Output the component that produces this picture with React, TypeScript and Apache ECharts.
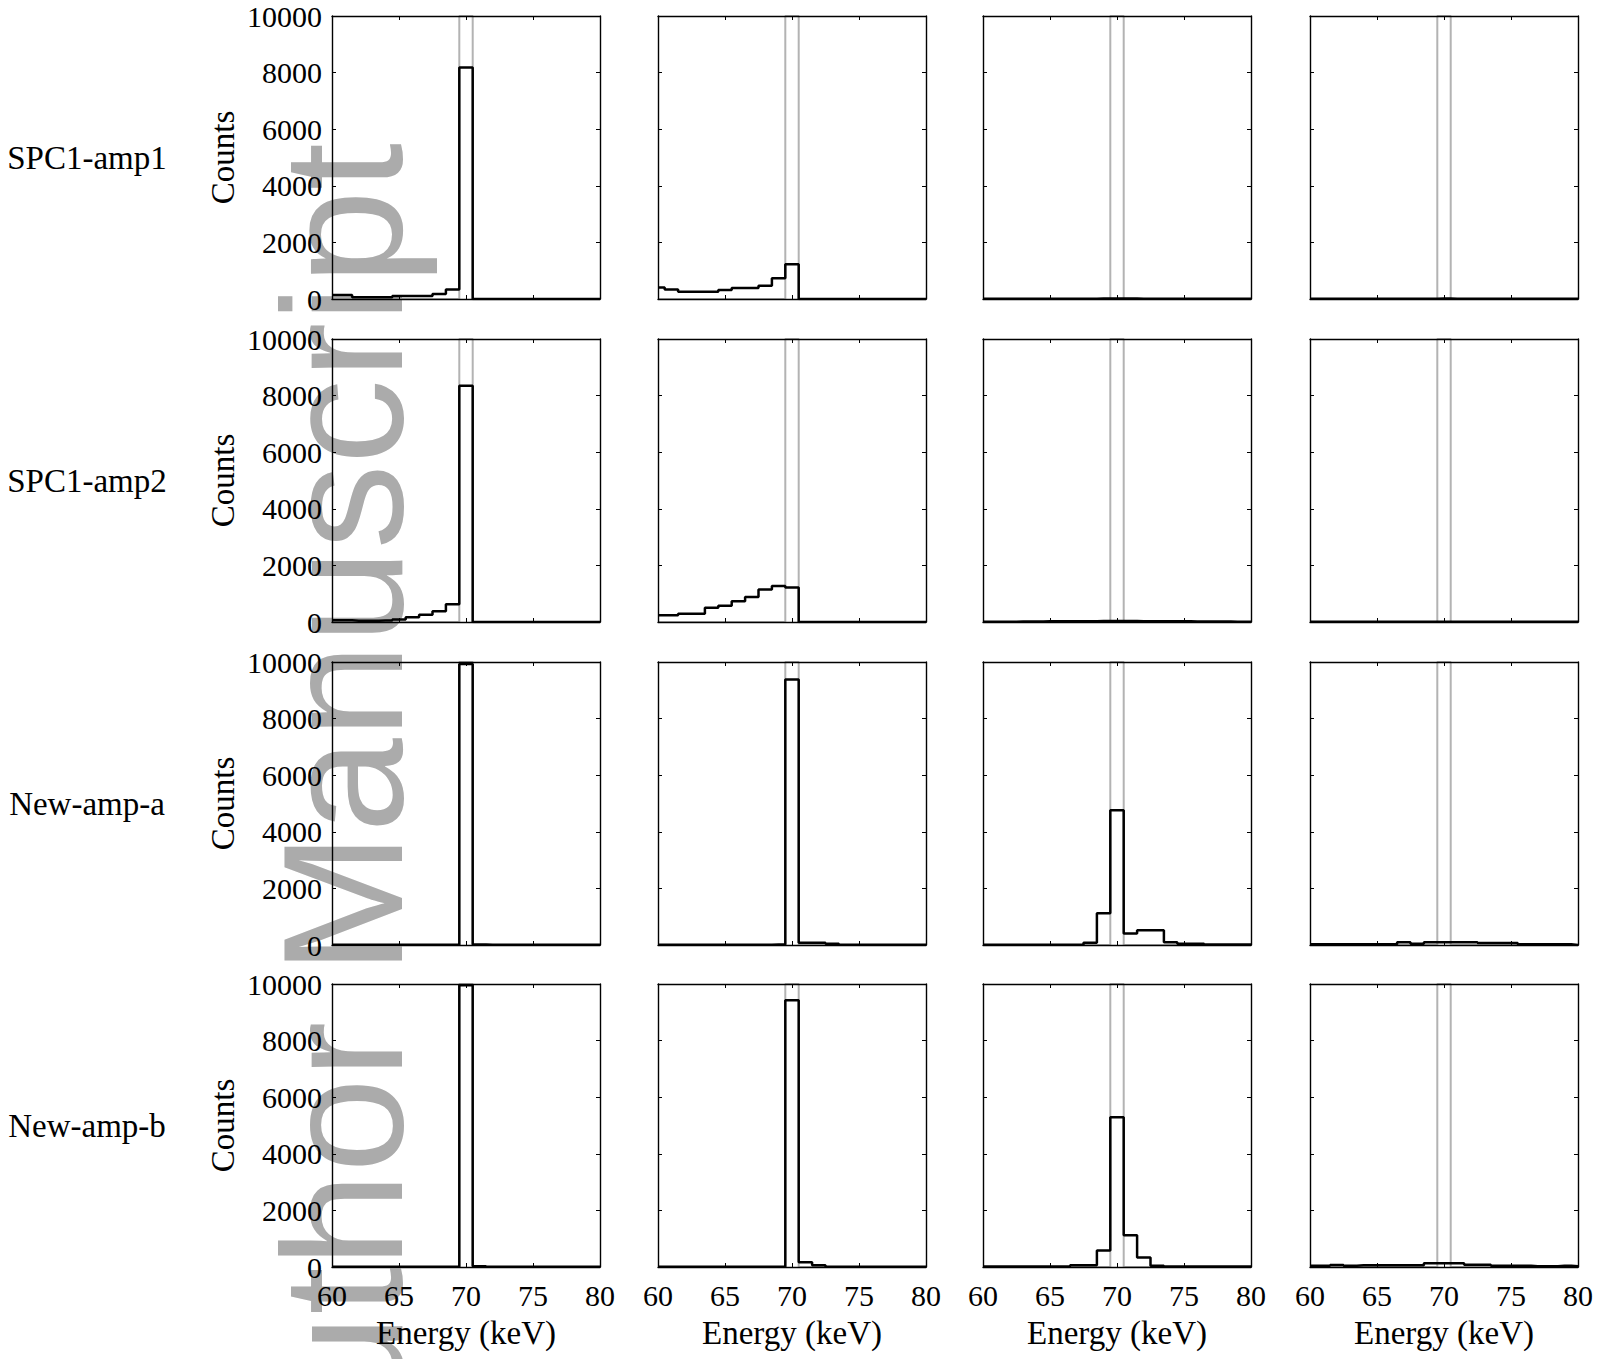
import React, { useEffect, useRef } from "react";
import * as echarts from "echarts";

// Bin centres (keV)
const energies = [60, 61, 62, 63, 64, 65, 66, 67, 68, 69, 70, 71, 72, 73, 74, 75, 76, 77, 78, 79, 80];

// Row labels
const rowLabels = ["SPC1-amp1", "SPC1-amp2", "New-amp-a", "New-amp-b"];

// Ideal (reference) histogram: all events in the 70 keV bin (grey)
const ideal = [0, 0, 0, 0, 0, 0, 0, 0, 0, 0, 10000, 0, 0, 0, 0, 0, 0, 0, 0, 0, 0];

// SPC1-amp1
const spc1amp1Col1 = [140, 140, 60, 60, 60, 105, 105, 105, 180, 340, 8180, 0, 0, 0, 0, 0, 0, 0, 0, 0, 0];
const spc1amp1Col2 = [410, 340, 260, 260, 260, 320, 390, 390, 470, 730, 1230, 0, 0, 0, 0, 0, 0, 0, 0, 0, 0];
const spc1amp1Col3 = [10, 10, 10, 10, 10, 10, 10, 10, 12, 15, 20, 15, 12, 10, 10, 10, 10, 10, 10, 10, 10];
const spc1amp1Col4 = [10, 10, 10, 10, 10, 10, 10, 10, 10, 12, 15, 12, 10, 10, 10, 10, 10, 10, 10, 10, 10];

// SPC1-amp2
const spc1amp2Col1 = [60, 60, 40, 40, 50, 90, 170, 260, 378, 625, 8350, 0, 0, 0, 0, 0, 0, 0, 0, 0, 0];
const spc1amp2Col2 = [236, 236, 295, 295, 507, 578, 730, 885, 1145, 1275, 1215, 0, 0, 0, 0, 0, 0, 0, 0, 0, 0];
const spc1amp2Col3 = [10, 10, 10, 15, 20, 25, 30, 30, 30, 35, 35, 35, 30, 30, 30, 25, 20, 15, 15, 10, 10];
const spc1amp2Col4 = [5, 5, 5, 5, 5, 5, 5, 5, 5, 8, 10, 8, 5, 5, 5, 5, 5, 5, 5, 5, 5];

// New-amp-a
const newAmpACol1 = [5, 5, 5, 5, 5, 5, 5, 5, 5, 10, 9930, 15, 5, 5, 5, 5, 5, 5, 5, 5, 5];
const newAmpACol2 = [5, 5, 5, 5, 5, 5, 5, 5, 5, 20, 9380, 80, 80, 40, 10, 5, 5, 5, 5, 5, 5];
const newAmpACol3 = [10, 10, 10, 10, 10, 10, 10, 10, 80, 1120, 4760, 410, 520, 520, 100, 45, 45, 15, 15, 15, 15];
const newAmpACol4 = [24, 24, 24, 24, 24, 24, 24, 95, 47, 95, 95, 95, 95, 70, 70, 70, 24, 24, 24, 24, 0];

// New-amp-b
const newAmpBCol1 = [5, 5, 5, 5, 5, 5, 5, 5, 5, 10, 9960, 30, 5, 5, 5, 5, 5, 5, 5, 5, 5];
const newAmpBCol2 = [5, 5, 5, 5, 5, 5, 5, 5, 5, 10, 9430, 165, 60, 10, 5, 5, 5, 5, 5, 5, 5];
const newAmpBCol3 = [15, 15, 15, 15, 15, 15, 15, 60, 60, 580, 5290, 1120, 340, 45, 20, 20, 20, 20, 20, 20, 20];
const newAmpBCol4 = [40, 40, 70, 45, 60, 60, 60, 60, 60, 130, 130, 130, 80, 80, 45, 45, 45, 25, 25, 45, 25];

const panels = [
  [spc1amp1Col1, spc1amp1Col2, spc1amp1Col3, spc1amp1Col4],
  [spc1amp2Col1, spc1amp2Col2, spc1amp2Col3, spc1amp2Col4],
  [newAmpACol1, newAmpACol2, newAmpACol3, newAmpACol4],
  [newAmpBCol1, newAmpBCol2, newAmpBCol3, newAmpBCol4],
];

// Layout
const colLefts = [332, 658, 983, 1310];
const rowTops = [16, 339, 662, 984];
const panelW = 268;
const panelH = 283;

const SERIF = "Liberation Serif, Times New Roman, serif";

function buildOption() {
  const grid: any[] = [];
  const xAxis: any[] = [];
  const yAxis: any[] = [];
  const series: any[] = [];
  const graphic: any[] = [];

  // Watermark
  graphic.push({
    type: "text",
    x: 343,
    y: 143,
    rotation: Math.PI / 2,
    z: -10,
    silent: true,
    style: {
      text: "Author Manuscript",
      fontFamily: "Liberation Sans, Arial, sans-serif",
      fontSize: 170,
      fill: "#ababab",
      align: "right",
      verticalAlign: "middle",
    },
  });

  for (let r = 0; r < 4; r++) {
    graphic.push({
      type: "text",
      x: 87,
      y: rowTops[r] + panelH / 2,
      z: 10,
      style: {
        text: rowLabels[r],
        fontFamily: SERIF,
        fontSize: 33,
        fill: "#000",
        align: "center",
        verticalAlign: "middle",
      },
    });
    for (let c = 0; c < 4; c++) {
      const i = r * 4 + c;
      grid.push({ left: colLefts[c], top: rowTops[r], width: panelW, height: panelH, containLabel: false });
      const isBottom = r === 3;
      const isLeft = c === 0;
      const lineAxis = { show: true, onZero: false, lineStyle: { color: "#000", width: 1.4 } };
      const tick = { show: true, inside: true, length: 4, lineStyle: { color: "#000", width: 1 } };
      xAxis.push({
        gridIndex: i,
        type: "value",
        min: 60,
        max: 80,
        interval: 5,
        position: "bottom",
        z: 4,
        axisLine: lineAxis,
        axisTick: tick,
        splitLine: { show: false },
        axisLabel: { show: isBottom, margin: 13, fontSize: 30, fontFamily: SERIF, color: "#000" },
        name: isBottom ? "Energy (keV)" : "",
        nameLocation: "middle",
        nameGap: 49,
        nameTextStyle: { fontSize: 33, fontFamily: SERIF, color: "#000" },
      });
      xAxis.push({
        gridIndex: i,
        type: "value",
        min: 60,
        max: 80,
        interval: 5,
        position: "top",
        z: 4,
        axisLine: lineAxis,
        axisTick: tick,
        splitLine: { show: false },
        axisLabel: { show: false },
      });
      yAxis.push({
        gridIndex: i,
        type: "value",
        min: 0,
        max: 10000,
        interval: 2000,
        position: "left",
        z: 4,
        axisLine: lineAxis,
        axisTick: tick,
        splitLine: { show: false },
        axisLabel: {
          show: isLeft,
          margin: 10,
          fontSize: 30,
          fontFamily: SERIF,
          color: "#000",
          formatter: (v: number) => String(v),
        },
        name: isLeft ? "Counts" : "",
        nameLocation: "middle",
        nameGap: 93,
        nameTextStyle: { fontSize: 33, fontFamily: SERIF, color: "#000" },
      });
      yAxis.push({
        gridIndex: i,
        type: "value",
        min: 0,
        max: 10000,
        interval: 2000,
        position: "right",
        z: 4,
        axisLine: lineAxis,
        axisTick: tick,
        splitLine: { show: false },
        axisLabel: { show: false },
      });
      series.push({
        type: "line",
        xAxisIndex: 2 * i,
        yAxisIndex: 2 * i,
        step: "middle",
        symbol: "none",
        silent: true,
        z: 2,
        lineStyle: { color: "#b3b3b3", width: 2 },
        data: energies.map((e, k) => [e, ideal[k]]),
      });
      series.push({
        type: "line",
        xAxisIndex: 2 * i,
        yAxisIndex: 2 * i,
        step: "middle",
        symbol: "none",
        silent: true,
        z: 3,
        lineStyle: { color: "#000", width: 2.5 },
        data: energies.map((e, k) => [e, panels[r][c][k]]),
      });
    }
  }

  return {
    animation: false,
    backgroundColor: "#fff",
    grid,
    xAxis,
    yAxis,
    series,
    graphic: { elements: graphic },
  };
}

export default function App() {
  const ref = useRef<HTMLDivElement>(null);
  useEffect(() => {
    if (!ref.current) return;
    const chart = echarts.init(ref.current, undefined, { renderer: "svg" });
    chart.setOption(buildOption() as any);
    return () => chart.dispose();
  }, []);
  return (
    <div
      ref={ref}
      style={{ position: "absolute", left: 0, top: 0, width: 1601, height: 1359 }}
    />
  );
}
